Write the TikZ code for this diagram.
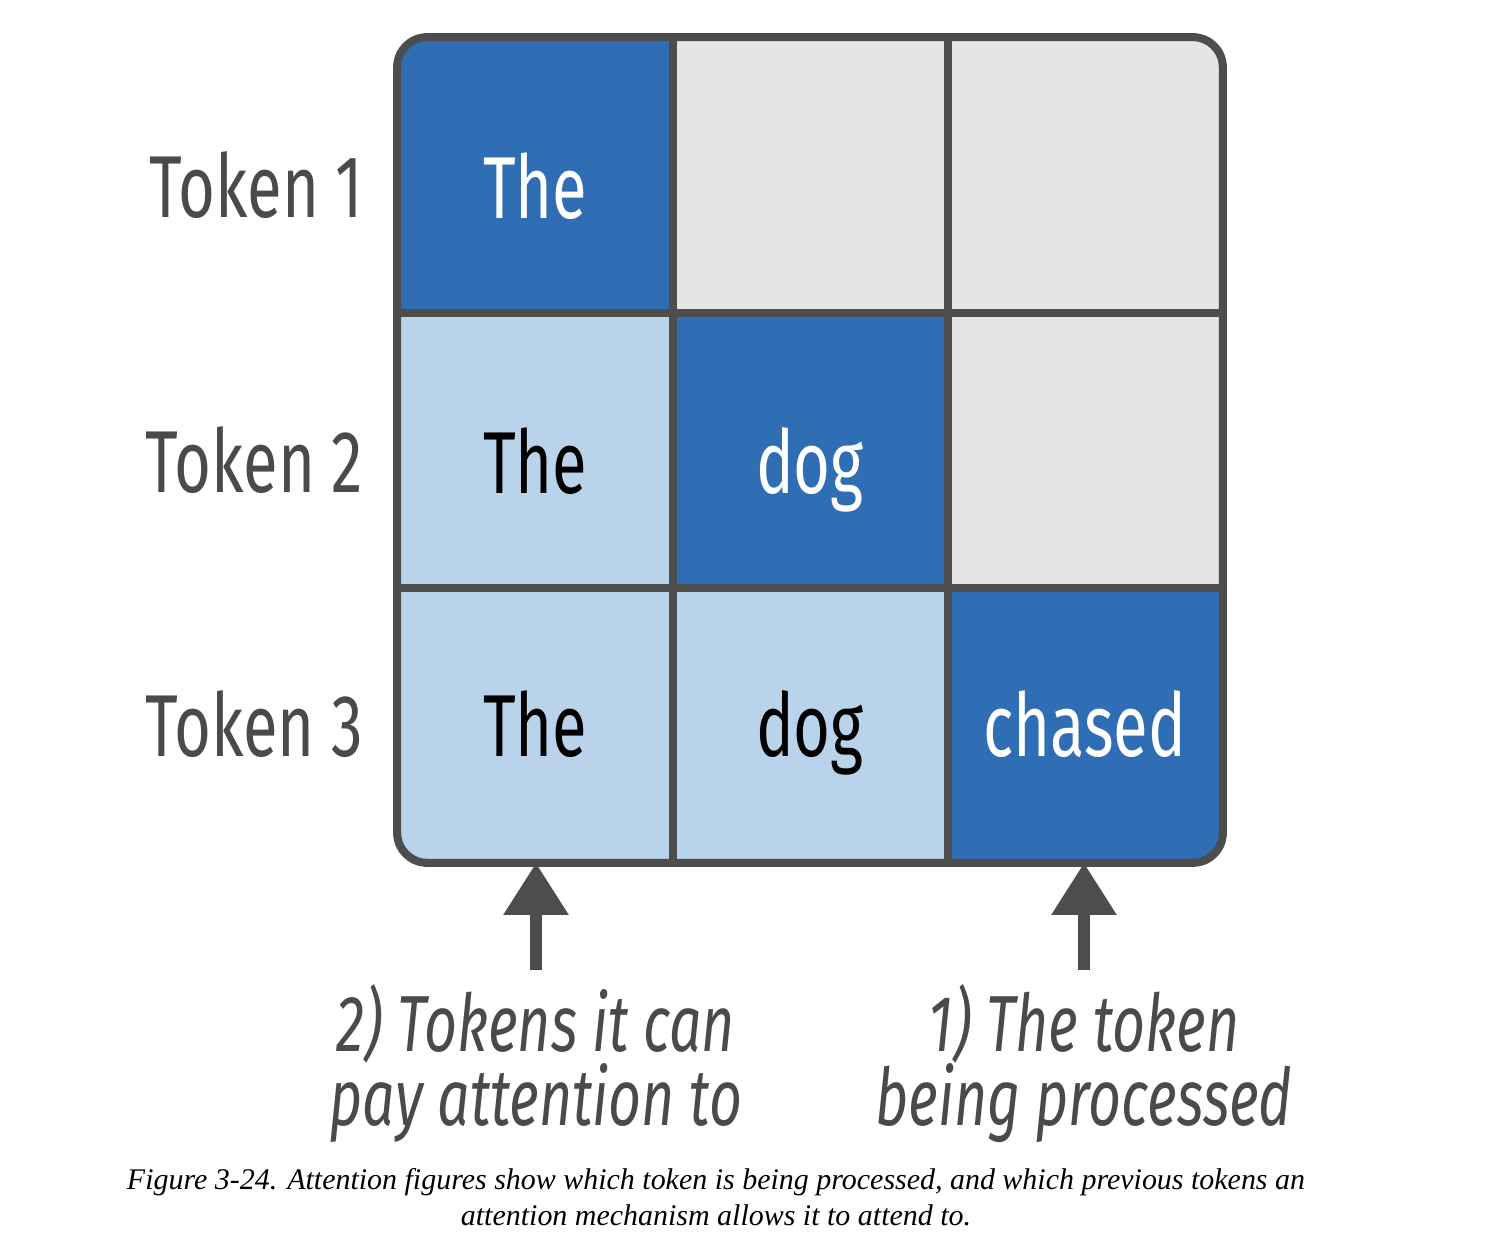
\documentclass[tikz,border=0pt]{standalone}
\usepackage{fontspec}
\usepackage{tikz}
\usetikzlibrary{arrows.meta, positioning}
\usepackage{xcolor}
\newfontfamily\tokfont[FakeStretch=0.72]{Fira Sans}
\newfontfamily\capfont{Liberation Serif}
\definecolor{dkblue}{HTML}{2F6EB5}
\definecolor{ltblue}{HTML}{B9D3EA}
\definecolor{ltgray}{HTML}{E5E5E5}
\definecolor{gridgray}{HTML}{4D4D4D}
\definecolor{labgray}{HTML}{4A4A4A}

\begin{document}
\begin{tikzpicture}[x=0.01cm, y=-0.01cm,
    cell/.style={minimum width=2.747cm, minimum height=2.747cm, inner sep=0pt,
        text height=0.86cm, text depth=0pt, font=\tokfont\fontsize{25pt}{25pt}\selectfont},
    lastrow/.style={text height=0.64cm},
    gridline/.style={draw=gridgray, line width=2.3pt},
    toklabel/.style={anchor=base east, inner sep=0pt, text=labgray, font=\tokfont\fontsize{25pt}{25pt}\selectfont},
    note/.style={align=center, inner sep=0pt, text=labgray, font=\tokfont\itshape\fontsize{22.6pt}{21pt}\selectfont},
    tokarrow/.style={-{Triangle[width=0.62cm, length=0.52cm]}, gridgray, line width=0.12cm, shorten <=0.14cm}]
    \useasboundingbox (0,0) rectangle (1508,1240);
    \begin{scope}
        \clip[rounded corners=0.3cm] (398,38) rectangle (1222,862);
        \node (c11) [cell, fill=dkblue, text=white] at (535.3,175.3) {The};
        \node (c12) [cell, fill=ltgray] at (810,175.3) {};
        \node (c13) [cell, fill=ltgray] at (1084.7,175.3) {};
        \node (c21) [cell, fill=ltblue] at (535.3,450) {The};
        \node (c22) [cell, fill=dkblue, text=white] at (810,450) {dog};
        \node (c23) [cell, fill=ltgray] at (1084.7,450) {};
        \node (c31) [cell, lastrow, fill=ltblue] at (535.3,724.7) {The};
        \node (c32) [cell, lastrow, fill=ltblue] at (810,724.7) {dog};
        \node (c33) [cell, lastrow, fill=dkblue, text=white] at (1084.7,724.7) {chased};
    \end{scope}
    % grid lines
    \draw [gridline] (c11.north east) -- (c31.south east);
    \draw [gridline] (c12.north east) -- (c32.south east);
    \draw [gridline] (c11.south west) -- (c13.south east);
    \draw [gridline] (c21.south west) -- (c23.south east);
    \draw [gridline, rounded corners=0.3cm] (c11.north west) rectangle (c33.south east);
    % row labels
    \node (t1) [toklabel] at (364,218) {Token 1};
    \node (t2) [toklabel] at (364,493) {Token 2};
    \node (t3) [toklabel] at (364,757) {Token 3};
    % notes and arrows
    \node (lab2) [note] at (536,1064) {2) Tokens it can\\pay attention to};
    \node (lab1) [note] at (1084,1064) {1) The token\\being processed};
    \draw [tokarrow] (lab2.north) -- (lab2.north |- c31.south);
    \draw [tokarrow] (lab1.north) -- (lab1.north |- c33.south);
    % caption
    \node (cap) [align=center, inner sep=0pt, font=\capfont\itshape\fontsize{8.52pt}{10.2pt}\selectfont]
        at (716,1197) {Figure 3-24. Attention figures show which token is being processed, and which previous tokens an\\attention mechanism allows it to attend to.};
\end{tikzpicture}
\end{document}
